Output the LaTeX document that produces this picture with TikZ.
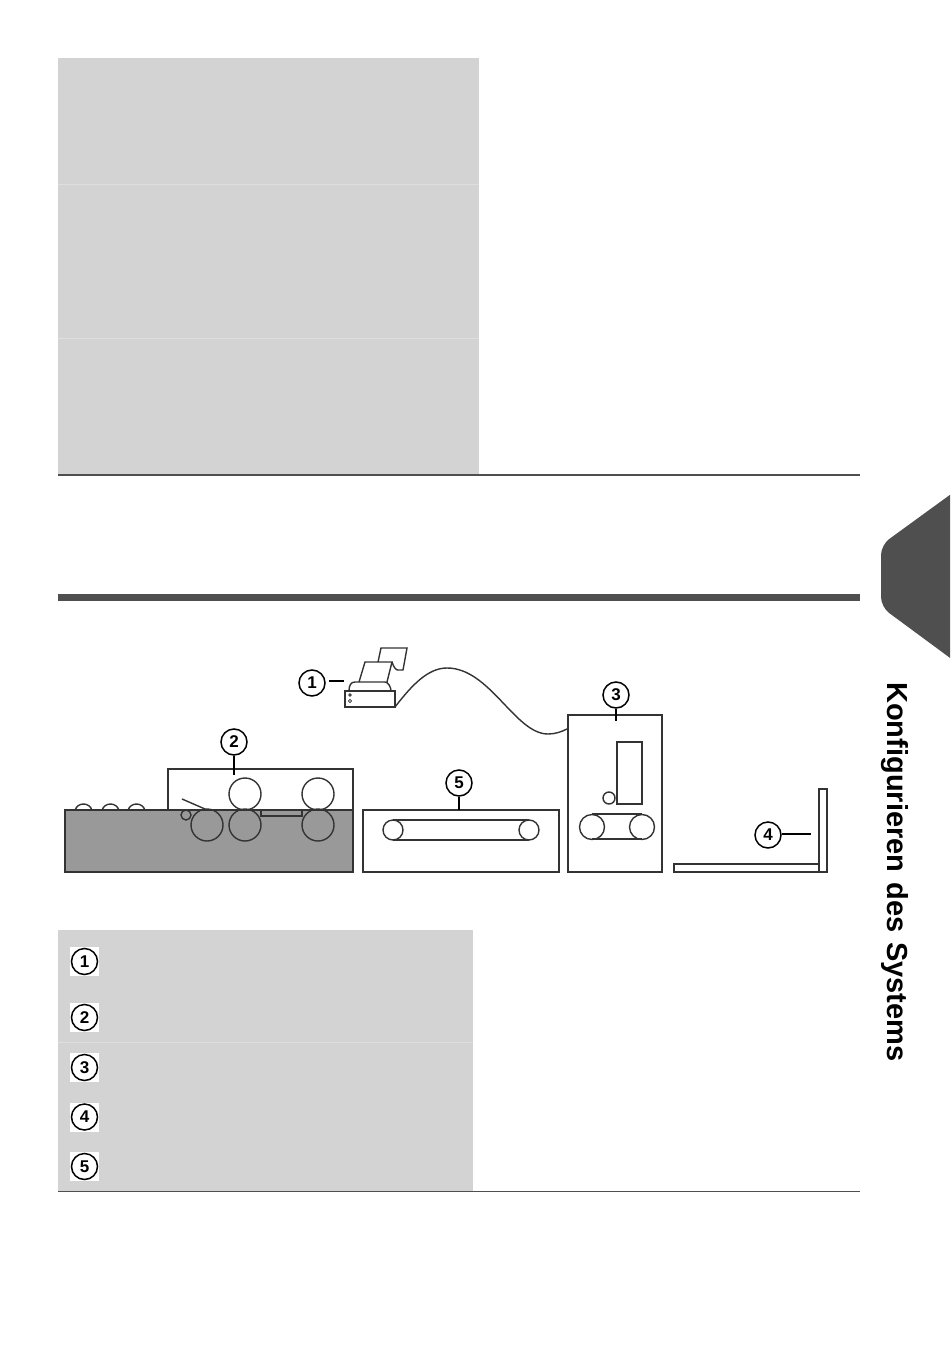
\documentclass[tikz,border=0pt]{standalone}
\usepackage{fontspec}
\setmainfont{Liberation Sans}
\usetikzlibrary{positioning, calc}
\definecolor{panel}{HTML}{D3D3D3}
\definecolor{seam}{HTML}{DEDEDE}
\definecolor{rule}{HTML}{4F4F4F}
\definecolor{ink}{HTML}{333333}
\definecolor{base}{HTML}{999999}
\tikzset{
  callout/.style={circle, draw=black, line width=1.5pt, fill=white, inner sep=0pt,
                  minimum size=26pt, font=\fontsize{17}{17}\selectfont\bfseries},
  tile/.style={fill=white, draw=none, inner sep=0pt, minimum size=29pt},
  lead/.style={draw=black, line width=1.2pt},
  part/.style={draw=ink, line width=1.4pt},
  roller/.style={draw=ink, line width=1.4pt},
  seamline/.style={draw=seam, line width=0.8pt},
  rulethin/.style={draw=rule, line width=1.5pt},
}

\begin{document}
\begin{tikzpicture}[x=1pt, y=-1pt]
  \useasboundingbox (0,0) rectangle (950,1348);
  % upper panel
  \fill[panel] (58,58) rectangle (479,474);
  \draw[seamline] (58,184) -- (479,184);
  \draw[seamline] (58,338) -- (479,338);
  \draw[rulethin] (58,475) -- (860,475);
  \fill[rule] (58,594) rectangle (860,601);
  % side tab
  \begin{scope}
    \clip (860,480) rectangle (950,680);
    \fill[rule, rounded corners=10pt] (980,473) -- (881,545) -- (881,607) -- (980,680) -- cycle;
  \end{scope}
  \node[rotate=-90, anchor=base west, font=\fontsize{29}{29}\selectfont\bfseries, inner sep=0pt, text=black] (tabtext) at (887,682) {Konfigurieren\kern2pt\ des\kern2pt\ Systems};
  % feeder
  \draw[part, fill=base] (65,810) rectangle (353,872);
  \draw[part] (168,810) -- (168,769) -- (353,769) -- (353,810);
  \foreach \bx in {75,102,128}
    \draw[part] (\bx,810) .. controls (\bx+3,802) and (\bx+14,802) .. (\bx+17,810);
  \draw[part] (261,810) rectangle (302,816);
  \draw[part] (182,799) -- (205,809);
  \draw[roller] (186,815) circle (5);
  \foreach \rx/\ry in {207/825, 245/825, 318/825, 245/794, 318/794}
    \draw[roller] (\rx,\ry) circle (16);
  % printer
  \draw[part] (345,691) rectangle (395,707);
  \draw[part] (349,691) .. controls (349,685) and (351,682) .. (355,682) -- (385,682) .. controls (388,682) and (391,687) .. (391,691);
  \draw[part] (359,682) -- (365,662) -- (392,662) -- (387,682);
  \draw[part] (392,662) .. controls (394,668) and (396,670) .. (398,670) -- (403,670) -- (407,648) -- (381,648) -- (378,662);
  \draw[part, line width=0.8pt] (350,695) circle (1.2) (350,701) circle (1.6);
  % cable
  \draw[part] (395,707) .. controls (412,685) and (428,668) .. (447,668) .. controls (490,668) and (515,734) .. (548,734) .. controls (555,734) and (561,732) .. (567,729);
  % stacker belt
  \draw[part] (363,810) rectangle (559,872);
  \draw[roller] (393,830) circle (10);
  \draw[roller] (529,830) circle (10);
  \draw[part] (393,820) -- (529,820);
  \draw[part] (393,840) -- (529,840);
  % tower
  \draw[part] (568,715) rectangle (662,872);
  \draw[part] (617,742) rectangle (642,804);
  \draw[roller] (609,798) circle (6);
  \draw[roller] (592,827) circle (12.5);
  \draw[roller] (642,827) circle (12.5);
  \draw[part] (592,814) -- (642,814);
  \draw[part] (592,839) -- (642,839);
  % tray
  \draw[part] (674,864) rectangle (819,872);
  \draw[part] (819,789) rectangle (827,872);
  % callouts
  \node[callout] (numA) at (312,683) {1};
  \node[callout] (numB) at (234,742) {2};
  \node[callout] (numC) at (616,695) {3};
  \node[callout] (numD) at (768,835) {4};
  \node[callout] (numE) at (459,783) {5};
  \coordinate (endA) at (344,681);
  \coordinate (endB) at (234,775);
  \coordinate (endC) at (616,721);
  \coordinate (endD) at (811,834);
  \coordinate (endE) at (459,810);
  \draw[lead] ([xshift=3pt,yshift=2pt]numA.east) -- (endA);
  \draw[lead] (numB.south) -- (endB);
  \draw[lead] (numC.south) -- (endC);
  \draw[lead] ([yshift=1pt]numD.east) -- (endD);
  \draw[lead] (numE.south) -- (endE);
  % legend
  \fill[panel] (58,930) rectangle (473,1191);
  \draw[seamline] (58,1042) -- (473,1042);
  \foreach \ly/\lnum in {961.5/1, 1017.5/2, 1067.5/3, 1117/4, 1166.5/5} {
    \node[tile] (tile\lnum) at (84.5,\ly) {};
    \node[callout] (key\lnum) at (tile\lnum) {\lnum};
  }
  \draw[rulethin] (58,1191.5) -- (860,1191.5);
\end{tikzpicture}
\end{document}
